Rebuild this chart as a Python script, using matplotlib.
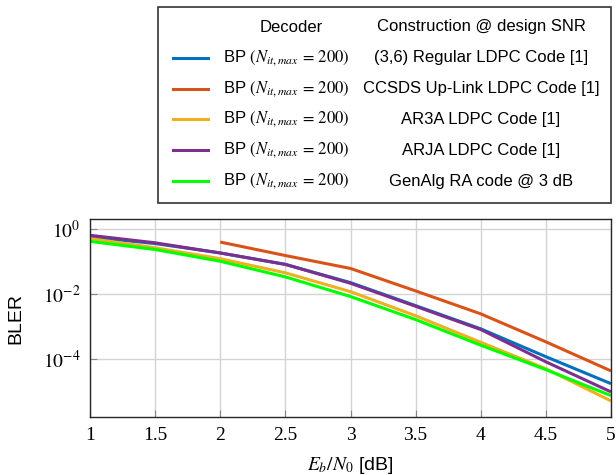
import numpy as np
import matplotlib
matplotlib.use('Agg')
import matplotlib.pyplot as plt
from matplotlib.patches import Rectangle
from matplotlib.lines import Line2D

plt.rcParams['font.family'] = ['Liberation Sans', 'DejaVu Sans']
plt.rcParams['mathtext.fontset'] = 'stix'

# Eb/N0 grid (dB)
ebn0 = [1, 1.5, 2, 2.5, 3, 3.5, 4, 4.5, 5]

# BLER curves
bler_regular = [0.56, 0.35, 0.18, 0.080, 0.022, 4.3e-3, 8.3e-4, 1.15e-4, 1.7e-5]
ebn0_ccsds = [2, 2.5, 3, 3.5, 4, 4.5, 5]
bler_ccsds = [0.39, 0.15, 0.060, 0.0122, 2.4e-3, 3.3e-4, 4.2e-5]
bler_ar3a = [0.50, 0.26, 0.12, 0.044, 0.0116, 2.1e-3, 3.2e-4, 4.9e-5, 5.0e-6]
bler_arja = [0.63, 0.37, 0.18, 0.080, 0.021, 4.1e-3, 7.9e-4, 8.0e-5, 9.5e-6]
bler_genalg = [0.41, 0.23, 0.10, 0.033, 8.2e-3, 1.6e-3, 2.6e-4, 4.6e-5, 7.3e-6]

decoder = r'BP $(N_{it,max}\,=\,200)$'
constructions = ['(3,6) Regular LDPC Code [1]', 'CCSDS Up-Link LDPC Code [1]',
                 'AR3A LDPC Code [1]', 'ARJA LDPC Code [1]', 'GenAlg RA code @ 3 dB']
colors = ['#0072BD', '#D95319', '#EDB120', '#7E2F8E', '#00FF00']

xticks = [1, 1.5, 2, 2.5, 3, 3.5, 4, 4.5, 5]
xtick_labels = ['1', '1.5', '2', '2.5', '3', '3.5', '4', '4.5', '5']
yticks = [1, 1e-2, 1e-4]
ytick_labels = [r'$10^{0}$', r'$10^{-2}$', r'$10^{-4}$']

W, H = 616, 475
fig = plt.figure(figsize=(W / 100, H / 100), dpi=100)

# main plot
ax = fig.add_axes([90 / W, 1 - 417 / H, 521 / W, 198 / H])
series = [(ebn0, bler_regular), (ebn0_ccsds, bler_ccsds), (ebn0, bler_ar3a),
          (ebn0, bler_arja), (ebn0, bler_genalg)]
for (x, y), c in zip(series, colors):
    ax.semilogy(x, y, color=c, lw=2.2, solid_capstyle='butt')

ax.set_xlim(1, 5)
ax.set_ylim(1.6e-6, 2)
ax.set_xticks(xticks, labels=xtick_labels)
ax.set_yticks(yticks, labels=ytick_labels)
ax.minorticks_off()
for lab in ax.get_xticklabels():
    lab.set_fontfamily('Liberation Serif')
ax.tick_params(direction='in', length=5, color='#888888', labelsize=14, pad=7)
ax.grid(True, color='#d4d4d4', lw=1)
for s in ax.spines.values():
    s.set_color('#262626')
    s.set_linewidth(1)
ax.set_ylabel('BLER', fontsize=14)
ax.yaxis.set_label_coords(-0.125, 0.5)
ax.set_xlabel(r'$E_b/N_0$ [dB]', fontsize=14)
ax.xaxis.set_label_coords(0.5, -0.19)

# table-style legend box, pixel coordinates inside
lg = fig.add_axes([158 / W, 1 - 203 / H, 453 / W, 196 / H])
lg.set_xlim(0, 453)
lg.set_ylim(196, 0)
lg.axis('off')
lg.add_patch(Rectangle((0, 0), 453, 196, fill=False, ec='#333333', lw=1.2, clip_on=False))
lg.text(133, 20, 'Decoder', fontsize=12, ha='center', va='center')
lg.text(323, 20, 'Construction @ design SNR', fontsize=12, ha='center', va='center')
for i, (c, name) in enumerate(zip(colors, constructions)):
    yy = 50.7 + i * 30.9
    lg.add_line(Line2D([15, 50], [yy, yy], color=c, lw=2.2))
    lg.text(65, yy, decoder, fontsize=12, ha='left', va='center')
    lg.text(323, yy, name, fontsize=12, ha='center', va='center')

fig.savefig('out.png', dpi=100)
